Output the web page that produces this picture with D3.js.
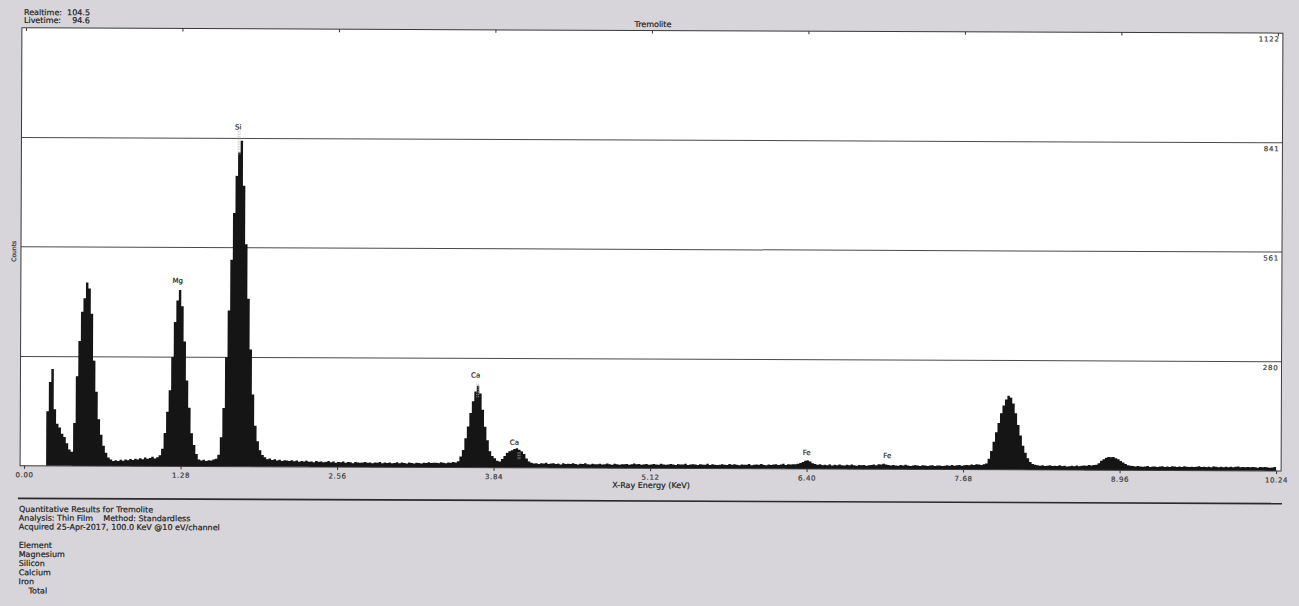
<!DOCTYPE html>
<html><head><meta charset="utf-8">
<script src="https://cdn.jsdelivr.net/npm/d3@7"></script>
<style>
body{margin:0;background:#d7d5d9;}
svg{display:block;}
text{font-family:"DejaVu Sans",Verdana,sans-serif;}
</style>
</head><body>
<svg id="chart" width="1299" height="606"></svg>
<script>
// ---- data ----
const binWidth = 0.02; // keV per bin (two 10 eV channels)
const counts = [
  0,0,0,0,0,0,0,0,0,
  140,215,248,145,108,98,82,74,58,42,36,
  110,230,320,395,430,470,455,390,270,190,120,80,52,34,22,
  17,13,15,13,16,14,17,15,18,16,19,17,20,18,22,19,21,24,20,23,28,
  45,85,140,195,280,370,425,452,410,320,220,150,85,55,32,
  18,15,17,14,16,15,18,20,
  30,75,150,280,400,530,650,745,805,835,720,570,430,300,185,105,65,42,30,
  24,19,21,17,19,16,18,15,17,16,
  15,17,14,16,13,15,14,16,13,14,
  12,15,13,14,12,13,15,12,14,11,
  13,12,14,11,13,12,10,13,12,11,
  12,13,11,12,10,12,11,13,10,12,
  11,12,10,11,13,10,12,11,10,12,
  11,10,12,11,10,12,11,13,11,12,
  12,11,13,12,11,13,12,14,13,
  16,28,45,75,105,140,170,195,210,190,148,105,70,42,30,24,18,16,
  22,30,38,42,45,48,50,46,42,35,24,16,
  13,11,12,10,12,11,13,10,
  11,12,10,11,9,12,10,11,10,12,
  10,9,11,10,12,10,9,11,10,10,
  11,9,10,12,10,9,11,10,9,10,
  10,11,9,10,12,10,11,9,10,11,
  9,10,11,10,9,12,10,9,10,11,
  10,9,11,10,10,12,9,10,11,10,
  9,11,10,10,12,9,11,10,9,10,
  11,10,9,12,10,11,10,9,11,10,
  10,12,9,10,11,10,12,10,9,11,
  10,11,12,10,11,13,10,12,11,12,
  12,13,15,18,21,22,19,15,13,11,
  12,10,11,10,12,9,11,10,12,10,
  9,11,10,12,10,9,11,10,11,9,
  10,11,12,10,13,12,14,12,11,10,
  11,10,9,11,10,12,10,9,10,11,
  10,9,11,10,9,10,11,9,10,10,
  9,10,11,10,12,10,11,12,10,11,
  12,11,13,12,14,13,12,14,
  16,28,48,72,96,120,145,165,180,190,185,170,145,115,88,62,44,30,20,15,
  13,12,11,12,10,11,12,10,11,10,12,10,11,9,10,11,10,12,10,11,12,11,13,12,13,
  14,18,24,28,32,34,33,34,31,28,24,20,16,13,
  12,11,10,11,10,9,10,11,9,10,
  10,9,10,11,9,10,9,11,10,9,
  10,9,11,10,9,10,9,10,11,9,
  10,9,10,9,11,10,9,10,9,10,
  9,10,9,10,11,9,10,9,10,9,
  10,9,8,10,9,10,9,8,9,10
];
const xTicks = [0, 1.28, 2.56, 3.84, 5.12, 6.40, 7.68, 8.96, 10.24];
const yGridValues = [280, 561, 841, 1122];
const peakNames = ["Mg", "Si", "Ca", "Ca", "Fe", "Fe"];
const peakEnergies = [1.25, 1.74, 3.69, 4.01, 6.40, 7.06];
const peakLabelCounts = [470, 864, 231, 59, 36, 29];
const markerEnergies = [1.74, 1.755, 3.70, 3.715, 4.04, 4.055];
const markerTops = [860, 860, 215, 215, 40, 40];
const markerBottoms = [800, 800, 180, 180, 20, 20];
const headerNames = ["Realtime:", "Livetime:"];
const headerValues = ["104.5", "94.6"];
const chartTitle = "Tremolite";
const xTitle = "X-Ray Energy (KeV)";
const yTitle = "Counts";
const infoLines = [
  "Quantitative Results for Tremolite",
  "Analysis: Thin Film    Method: Standardless",
  "Acquired 25-Apr-2017, 100.0 KeV @10 eV/channel"
];
const elementLines = ["Element", "Magnesium", "Silicon", "Calcium", "Iron", "Total"];

// ---- layout ----
const L = 21, R = 1282, T = 30.5, B = 468.3;
const svg = d3.select("#chart");
const g = svg.append("g").attr("transform", "rotate(0.24,650,250)");

const x = d3.scaleLinear().domain([0, 10.24]).range([25, 1277]);
const y = d3.scaleLinear().domain([0, 1122]).range([B, T]);

g.append("rect").attr("x", L).attr("y", T).attr("width", R - L).attr("height", B - T)
  .attr("fill", "#ffffff");

g.selectAll(".grid").data(yGridValues.filter(v => v < 1122)).enter().append("line")
  .attr("x1", L).attr("x2", R).attr("y1", d => y(d)).attr("y2", d => y(d))
  .attr("stroke", "#4a4a4a").attr("stroke-width", 1);

const pts = counts.map((c, i) => ({e: i * binWidth, c}));
pts.push({e: counts.length * binWidth, c: counts[counts.length - 1]});
const area = d3.area().x(d => x(d.e)).y0(y(0)).y1(d => y(d.c)).curve(d3.curveStepAfter);
g.append("path").datum(pts).attr("d", area).attr("fill", "#151515");

// element marker lines
g.selectAll(".mk").data(markerEnergies).enter().append("line")
  .attr("x1", d => x(d)).attr("x2", d => x(d))
  .attr("y1", (d, i) => y(markerTops[i])).attr("y2", (d, i) => y(markerBottoms[i]))
  .attr("stroke", "#b8b8b8").attr("stroke-width", 0.8).attr("stroke-dasharray", "1.5,1");

g.append("rect").attr("x", L).attr("y", T).attr("width", R - L).attr("height", B - T)
  .attr("fill", "none").attr("stroke", "#3a3a3a").attr("stroke-width", 1);

const xAxis = d3.axisBottom(x).tickValues(xTicks).tickFormat(d3.format(".2f")).tickSize(3);
const ax = g.append("g").attr("transform", `translate(0,${B})`).call(xAxis);
ax.select(".domain").remove();
ax.selectAll("line").attr("stroke", "#333");
ax.selectAll("text").attr("dy", null).attr("y", 11.5).attr("fill", "#3a3a3a")
  .style("font-size", "7px").style("letter-spacing", "0.6px").style("font-family", "DejaVu Sans");

const tAxis = d3.axisTop(x).tickValues(xTicks).tickFormat("").tickSize(-3);
const at = g.append("g").attr("transform", `translate(0,${T})`).call(tAxis);
at.select(".domain").remove();
at.selectAll("line").attr("stroke", "#333");

g.selectAll(".glab").data(yGridValues).enter().append("text")
  .attr("x", 1279).attr("y", d => y(d) + 8.5).attr("text-anchor", "end")
  .attr("fill", "#3a3a3a").style("font-size", "7px").style("letter-spacing", "0.8px")
  .text(d => d);

g.selectAll(".plab").data(peakNames).enter().append("text")
  .attr("x", (d, i) => x(peakEnergies[i])).attr("y", (d, i) => y(peakLabelCounts[i]))
  .attr("text-anchor", "middle").attr("fill", "#2a2a2a").style("font-size", "7px")
  .text(d => d);

g.append("text").attr("x", 652).attr("y", 27).attr("text-anchor", "middle")
  .attr("fill", "#222").style("font-size", "8px").text(chartTitle);
g.append("text").attr("x", 652).attr("y", 488).attr("text-anchor", "middle")
  .attr("fill", "#222").style("font-size", "8px").text(xTitle);
g.append("text").attr("transform", "translate(16,254) rotate(-90)").attr("text-anchor", "middle")
  .attr("fill", "#333").style("font-size", "6px").text(yTitle);

headerNames.forEach((n, i) => {
  g.append("text").attr("x", 23).attr("y", 17.7 + i * 7.8).attr("fill", "#222")
    .style("font-size", "8px").text(n);
  g.append("text").attr("x", 89).attr("y", 17.7 + i * 7.8).attr("text-anchor", "end")
    .attr("fill", "#222").style("font-size", "8px").text(headerValues[i]);
});

g.append("line").attr("x1", 19).attr("x2", 1283).attr("y1", 501).attr("y2", 501)
  .attr("stroke", "#2a2a2a").attr("stroke-width", 1.6);

infoLines.forEach((t, i) => {
  g.append("text").attr("x", 20).attr("y", 514.5 + i * 8.8).attr("fill", "#222")
    .style("font-size", "8px").style("white-space", "pre").text(t);
});
elementLines.forEach((t, i) => {
  g.append("text").attr("x", t === "Total" ? 30 : 20).attr("y", 550.5 + i * 9.1)
    .attr("fill", "#222").style("font-size", "8px").text(t);
});

// slight heaviness like the scanned print
g.selectAll("text").each(function() {
  const el = d3.select(this);
  el.attr("stroke", el.attr("fill")).attr("stroke-width", 0.2);
});
</script>
</body></html>
